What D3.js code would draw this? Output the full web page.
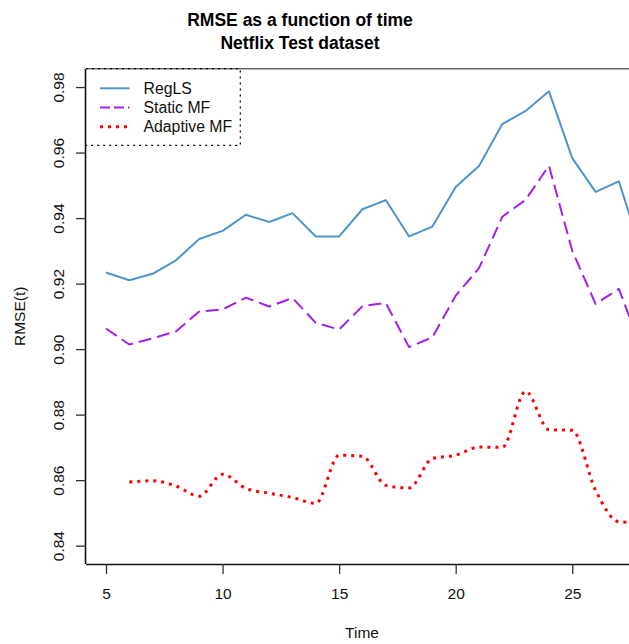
<!DOCTYPE html>
<html>
<head>
<meta charset="utf-8">
<script src="https://cdn.jsdelivr.net/npm/d3@7"></script>
<style>
  html, body { margin: 0; padding: 0; background: #fff; }
  svg { display: block; font-family: "Liberation Sans", Arial, Helvetica, sans-serif; }
</style>
</head>
<body>
<script>
// Time steps and RMSE per model
const timeRegLS = [5, 6, 7, 8, 9, 10, 11, 12, 13, 14, 15, 16, 17, 18, 19, 20, 21, 22, 23, 24, 25, 26, 27, 28];
const rmseRegLS = [0.9234, 0.9210, 0.9230, 0.9271, 0.9336, 0.9361, 0.9410, 0.9388, 0.9415, 0.9344, 0.9344, 0.9427,
                   0.9455, 0.9344, 0.9374, 0.9495, 0.9559, 0.9687, 0.9727, 0.9787, 0.9583, 0.9480, 0.9512, 0.9290];

const timeStatic = [5, 6, 7, 8, 9, 10, 11, 12, 13, 14, 15, 16, 17, 18, 19, 20, 21, 22, 23, 24, 25, 26, 27, 28];
const rmseStatic = [0.9063, 0.9014, 0.9033, 0.9054, 0.9115, 0.9121, 0.9157, 0.9130, 0.9156, 0.9080, 0.9060, 0.9131,
                    0.9141, 0.9006, 0.9036, 0.9163, 0.9247, 0.9404, 0.9456, 0.9560, 0.9300, 0.9138, 0.9184, 0.8995];

const timeAdaptive = [6, 7, 8, 9, 10, 11, 12, 13, 14, 15, 16, 17, 18, 19, 20, 21, 22, 23, 24, 25, 26, 27, 28];
const rmseAdaptive = [0.8594, 0.8598, 0.8582, 0.8551, 0.8618, 0.8575, 0.8560, 0.8547, 0.8529, 0.8676, 0.8673,
                      0.8584, 0.8576, 0.8666, 0.8676, 0.8701, 0.8700, 0.8871, 0.8754, 0.8752, 0.8569, 0.8473, 0.8470];

const xTicks = [5, 10, 15, 20, 25];
const yTicks = [0.84, 0.86, 0.88, 0.90, 0.92, 0.94, 0.96, 0.98];
const legendLabels = ["RegLS", "Static MF", "Adaptive MF"];
const titleLines = ["RMSE as a function of time", "Netflix Test dataset"];

const W = 629, H = 644;
const plot = { left: 86, top: 68.7, right: 638, bottom: 564 };

const x = d3.scaleLinear().domain([4.142, 27.82]).range([plot.left, plot.right]);
const y = d3.scaleLinear().domain([0.8344, 0.9856]).range([plot.bottom, plot.top]);

const svg = d3.select("body").append("svg").attr("width", W).attr("height", H);

svg.append("defs").append("clipPath").attr("id", "plotClip")
  .append("rect")
  .attr("x", plot.left).attr("y", plot.top)
  .attr("width", plot.right - plot.left).attr("height", plot.bottom - plot.top);

// Title
svg.append("g").selectAll("text").data(titleLines).join("text")
  .attr("x", 300).attr("y", (d, i) => 25.5 + i * 23.3)
  .attr("text-anchor", "middle")
  .attr("font-weight", "bold").attr("font-size", 17.5)
  .attr("fill", "#000")
  .text(d => d);

const series = [
  { t: timeRegLS, v: rmseRegLS, color: "#4f94cd", width: 2, dash: null, curve: d3.curveLinear },
  { t: timeStatic, v: rmseStatic, color: "#a020f0", width: 2, dash: "13,6", curve: d3.curveLinear },
  { t: timeAdaptive, v: rmseAdaptive, color: "#ff0000", width: 3, dash: "3,5", curve: d3.curveMonotoneX }
];

const gLines = svg.append("g").attr("clip-path", "url(#plotClip)");
series.forEach(s => {
  const pts = s.t.map((t, i) => [t, s.v[i]]);
  gLines.append("path")
    .datum(pts)
    .attr("fill", "none")
    .attr("stroke", s.color)
    .attr("stroke-width", s.width)
    .attr("stroke-dasharray", s.dash)
    .attr("stroke-linejoin", "round")
    .attr("d", d3.line().x(d => x(d[0])).y(d => y(d[1])).curve(s.curve));
});

// Box top edge
svg.append("line")
  .attr("x1", plot.left).attr("x2", plot.right)
  .attr("y1", plot.top).attr("y2", plot.top)
  .attr("stroke", "#666").attr("stroke-width", 1.6);

// Axes
const xAxis = d3.axisBottom(x).tickValues(xTicks).tickSize(10).tickPadding(14).tickFormat(d3.format("d"));
const gx = svg.append("g").attr("transform", `translate(0,${plot.bottom})`).call(xAxis);
gx.select(".domain").attr("d", `M${plot.left},0.5H${plot.right}`).attr("stroke", "#111").attr("stroke-width", 1.6);
gx.selectAll(".tick line").attr("stroke", "#333").attr("stroke-width", 1.3);
gx.selectAll(".tick text").attr("font-size", 15.5).attr("fill", "#111")
  .attr("font-family", "'Liberation Sans', Arial, sans-serif");

const yAxis = d3.axisLeft(y).tickValues(yTicks).tickSize(10).tickFormat(d3.format(".2f"));
const gy = svg.append("g").attr("transform", `translate(${plot.left},0)`).call(yAxis);
gy.select(".domain").attr("d", `M-0.5,${plot.top}V${plot.bottom}`).attr("stroke", "#111").attr("stroke-width", 1.6);
gy.selectAll(".tick line").attr("stroke", "#333").attr("stroke-width", 1.3);
gy.selectAll(".tick text")
  .attr("font-size", 15.5).attr("fill", "#111")
  .attr("font-family", "'Liberation Sans', Arial, sans-serif")
  .attr("x", null).attr("dy", null)
  .attr("text-anchor", "middle")
  .attr("transform", "translate(-22,0) rotate(-90)");

// Axis titles
svg.append("text")
  .attr("x", 362).attr("y", 638)
  .attr("text-anchor", "middle").attr("font-size", 15.5).attr("fill", "#111")
  .text("Time");
svg.append("text")
  .attr("transform", `translate(25,${(plot.top + plot.bottom) / 2}) rotate(-90)`)
  .attr("text-anchor", "middle").attr("font-size", 15.5).attr("fill", "#111")
  .text("RMSE(t)");

// Legend
const legend = { x0: plot.left, y0: plot.top, x1: 240.3, y1: 145.3 };
svg.append("path")
  .attr("d", `M${legend.x0},${legend.y0}H${legend.x1}V${legend.y1}H${legend.x0}`)
  .attr("fill", "none").attr("stroke", "#000").attr("stroke-width", 1.2)
  .attr("stroke-dasharray", "2,4");

const gLeg = svg.append("g");
legendLabels.forEach((label, i) => {
  const s = series[i];
  const ly = 88.3 + i * 19.2;
  gLeg.append("line")
    .attr("x1", 100).attr("x2", 129.5).attr("y1", ly).attr("y2", ly)
    .attr("stroke", s.color).attr("stroke-width", s.width)
    .attr("stroke-dasharray", i === 1 ? "10,4" : s.dash);
  gLeg.append("text")
    .attr("x", 143.5).attr("y", ly + 5.5)
    .attr("font-size", 15.8).attr("fill", "#111")
    .text(label);
});
</script>
</body>
</html>
